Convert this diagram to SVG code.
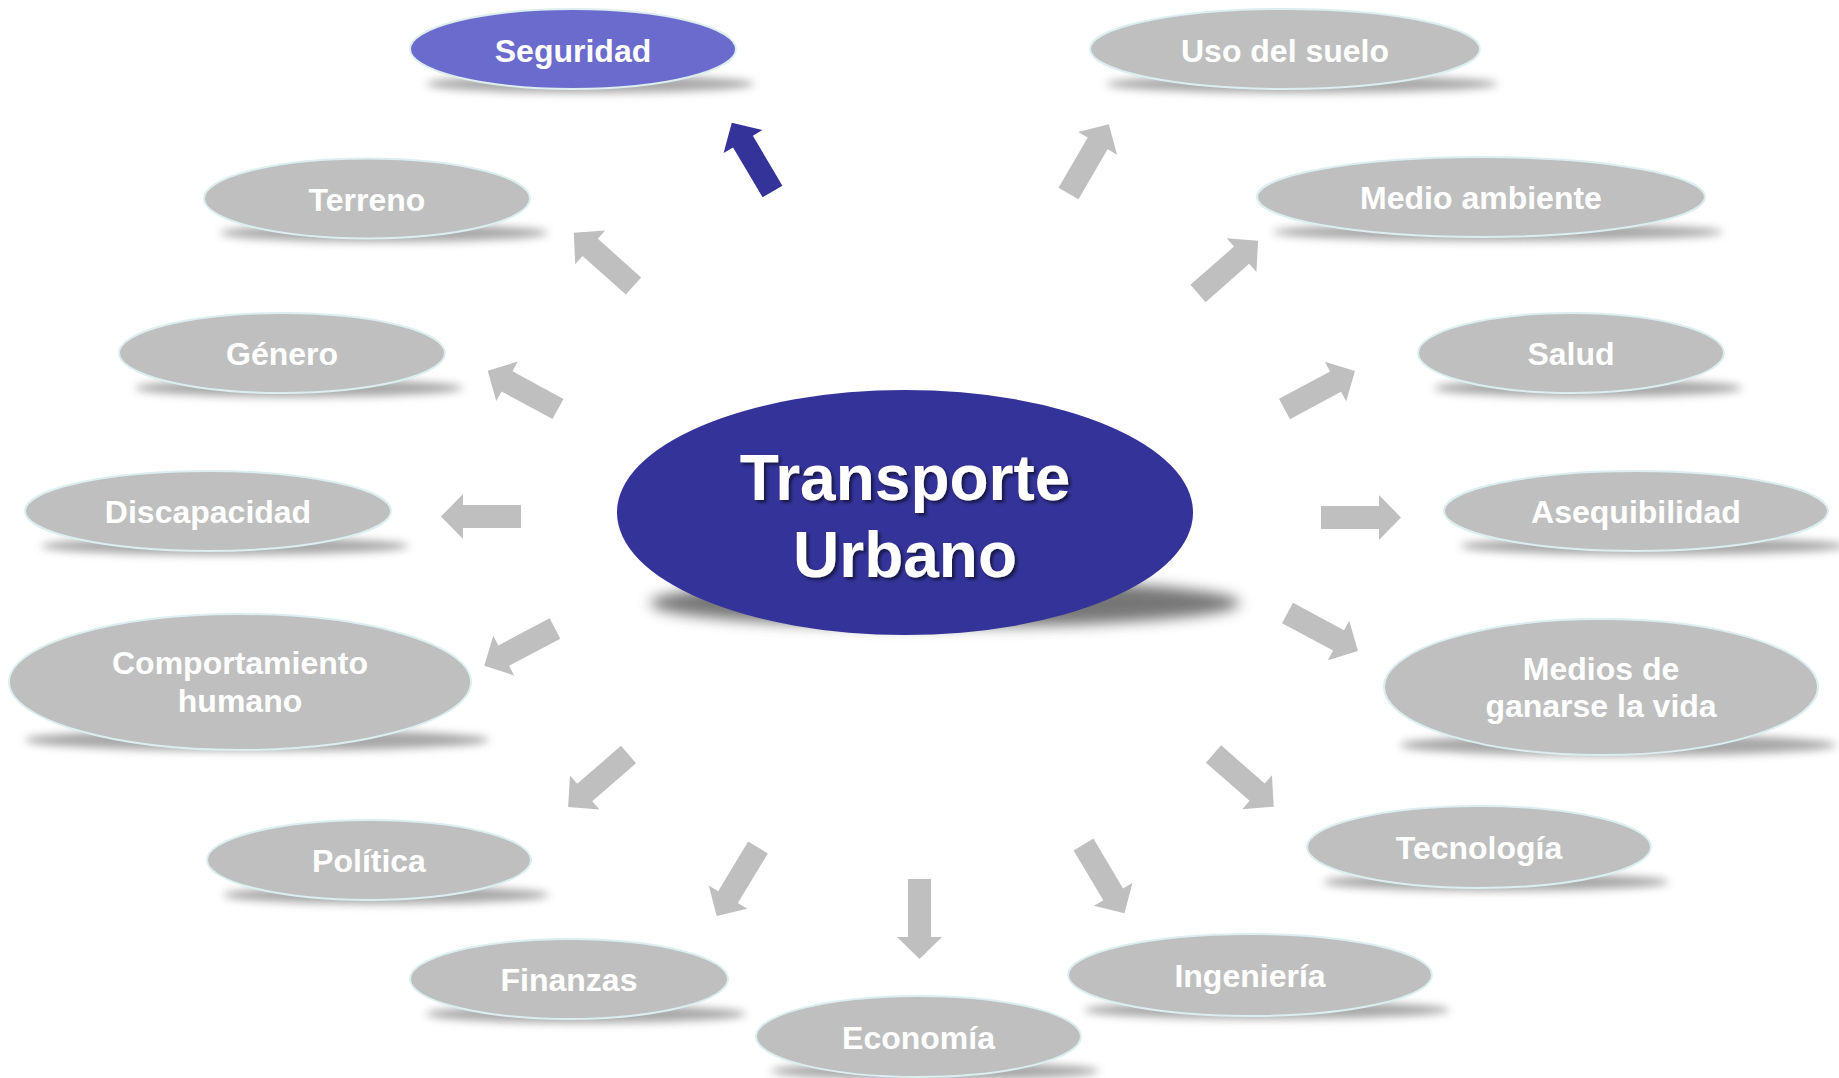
<svg xmlns="http://www.w3.org/2000/svg" xmlns:xlink="http://www.w3.org/1999/xlink" width="1839" height="1078" viewBox="0 0 1839 1078">
<style>
.node{fill:#BFBFBF;stroke:#DCEEEF;stroke-width:2}
.sel{fill:#6B6BCD;stroke:#DCEEEF;stroke-width:2}
.core{fill:#333399}
.shadow{fill:#8a8a8a;opacity:.75;filter:url(#blur)}
.lbl{font-family:"Liberation Sans",Arial,sans-serif;font-weight:bold;font-size:32px;fill:#FFFFFF;text-anchor:middle}
.big{font-family:"Liberation Sans",Arial,sans-serif;font-weight:bold;font-size:64px;fill:#FFFFFF;text-anchor:middle;filter:url(#tshadow)}
.arrow{fill:#BFBFBF}
.arrow.hl{fill:#333399}
</style>
<defs>
<filter id="blur" x="-20%" y="-100%" width="140%" height="300%"><feGaussianBlur stdDeviation="4"/></filter>
<filter id="blur2" x="-20%" y="-100%" width="140%" height="300%"><feGaussianBlur stdDeviation="7"/></filter>
<filter id="tshadow" x="-10%" y="-20%" width="120%" height="140%"><feDropShadow dx="2.5" dy="2.5" stdDeviation="1.5" flood-color="#000" flood-opacity="0.55"/></filter>
<path id="arr" d="M0,-11.5 L58,-11.5 L58,-22.5 L80,0 L58,22.5 L58,11.5 L0,11.5 Z"/>
</defs>
<rect width="1839" height="1078" fill="#FFFFFF"/>

<g id="connectors">
<use xlink:href="#arr" class="arrow hl" transform="translate(772.5,191.5) rotate(-120.6)"/>
<use xlink:href="#arr" class="arrow" transform="translate(633.5,286) rotate(-138.3)"/>
<use xlink:href="#arr" class="arrow" transform="translate(558,409) rotate(-151.5)"/>
<use xlink:href="#arr" class="arrow" transform="translate(521,516.5) rotate(180)"/>
<use xlink:href="#arr" class="arrow" transform="translate(555,628.5) rotate(152.2)"/>
<use xlink:href="#arr" class="arrow" transform="translate(628.5,754.5) rotate(139)"/>
<use xlink:href="#arr" class="arrow" transform="translate(758,847.5) rotate(121.1)"/>
<use xlink:href="#arr" class="arrow" transform="translate(919.5,879) rotate(90)"/>
<use xlink:href="#arr" class="arrow" transform="translate(1083.5,844.5) rotate(59.2)"/>
<use xlink:href="#arr" class="arrow" transform="translate(1213.5,754) rotate(41.2)"/>
<use xlink:href="#arr" class="arrow" transform="translate(1287.5,613) rotate(28.3)"/>
<use xlink:href="#arr" class="arrow" transform="translate(1321,517.5)"/>
<use xlink:href="#arr" class="arrow" transform="translate(1284.5,409) rotate(-28.3)"/>
<use xlink:href="#arr" class="arrow" transform="translate(1198,293.5) rotate(-41.3)"/>
<use xlink:href="#arr" class="arrow" transform="translate(1068.5,193.5) rotate(-59.8)"/>
</g>

<g id="center">
<ellipse cx="945" cy="603" rx="295" ry="24" fill="#555" opacity=".8" filter="url(#blur2)"/>
<ellipse class="core" cx="905" cy="512.5" rx="288" ry="122.5"/>
<text class="big" x="905" y="500">Transporte</text>
<text class="big" x="905" y="577">Urbano</text>
</g>

<g id="seguridad">
<ellipse class="shadow" cx="590" cy="84" rx="164" ry="9"/>
<ellipse class="sel" cx="573" cy="49" rx="163" ry="40"/>
<text class="lbl" x="573" y="62">Seguridad</text>
</g>
<g id="uso-del-suelo">
<ellipse class="shadow" cx="1302" cy="84" rx="196" ry="9"/>
<ellipse class="node" cx="1285" cy="49" rx="195" ry="40"/>
<text class="lbl" x="1285" y="62">Uso del suelo</text>
</g>
<g id="terreno">
<ellipse class="shadow" cx="384" cy="233" rx="164" ry="9"/>
<ellipse class="node" cx="367" cy="198.5" rx="163" ry="40"/>
<text class="lbl" x="367" y="211">Terreno</text>
</g>
<g id="medio-ambiente">
<ellipse class="shadow" cx="1498" cy="232" rx="225" ry="9"/>
<ellipse class="node" cx="1481" cy="197" rx="224" ry="40"/>
<text class="lbl" x="1481" y="209">Medio ambiente</text>
</g>
<g id="genero">
<ellipse class="shadow" cx="299" cy="388" rx="164" ry="9"/>
<ellipse class="node" cx="282" cy="353" rx="163" ry="40"/>
<text class="lbl" x="282" y="365">Género</text>
</g>
<g id="salud">
<ellipse class="shadow" cx="1588" cy="388" rx="154" ry="9"/>
<ellipse class="node" cx="1571" cy="353" rx="153" ry="40"/>
<text class="lbl" x="1571" y="365">Salud</text>
</g>
<g id="discapacidad">
<ellipse class="shadow" cx="225" cy="546" rx="184" ry="9"/>
<ellipse class="node" cx="208" cy="511" rx="183" ry="40"/>
<text class="lbl" x="208" y="523">Discapacidad</text>
</g>
<g id="asequibilidad">
<ellipse class="shadow" cx="1653" cy="546" rx="193" ry="9"/>
<ellipse class="node" cx="1636" cy="511" rx="192" ry="40"/>
<text class="lbl" x="1636" y="523">Asequibilidad</text>
</g>
<g id="comportamiento-humano">
<ellipse class="shadow" cx="257" cy="740" rx="232" ry="11"/>
<ellipse class="node" cx="240" cy="682" rx="231" ry="68"/>
<text class="lbl" x="240" y="674">Comportamiento</text>
<text class="lbl" x="240" y="712">humano</text>
</g>
<g id="medios-de-ganarse-la-vida">
<ellipse class="shadow" cx="1618" cy="745" rx="218" ry="11"/>
<ellipse class="node" cx="1601" cy="687" rx="217" ry="68"/>
<text class="lbl" x="1601" y="679.5">Medios de</text>
<text class="lbl" x="1601" y="717">ganarse la vida</text>
</g>
<g id="politica">
<ellipse class="shadow" cx="386" cy="895" rx="163" ry="9"/>
<ellipse class="node" cx="369" cy="860" rx="162" ry="40"/>
<text class="lbl" x="369" y="872">Política</text>
</g>
<g id="tecnologia">
<ellipse class="shadow" cx="1496" cy="882" rx="173" ry="9"/>
<ellipse class="node" cx="1479" cy="847" rx="172" ry="41"/>
<text class="lbl" x="1479" y="859">Tecnología</text>
</g>
<g id="finanzas">
<ellipse class="shadow" cx="586" cy="1014" rx="160" ry="9"/>
<ellipse class="node" cx="569" cy="979" rx="159" ry="40"/>
<text class="lbl" x="569" y="991">Finanzas</text>
</g>
<g id="ingenieria">
<ellipse class="shadow" cx="1267" cy="1010" rx="183" ry="9"/>
<ellipse class="node" cx="1250" cy="975" rx="182" ry="41"/>
<text class="lbl" x="1250" y="987">Ingeniería</text>
</g>
<g id="economia">
<ellipse class="shadow" cx="935" cy="1071" rx="164" ry="9"/>
<ellipse class="node" cx="918.5" cy="1036.5" rx="162.5" ry="40.5"/>
<text class="lbl" x="918.5" y="1049">Economía</text>
</g>
</svg>
